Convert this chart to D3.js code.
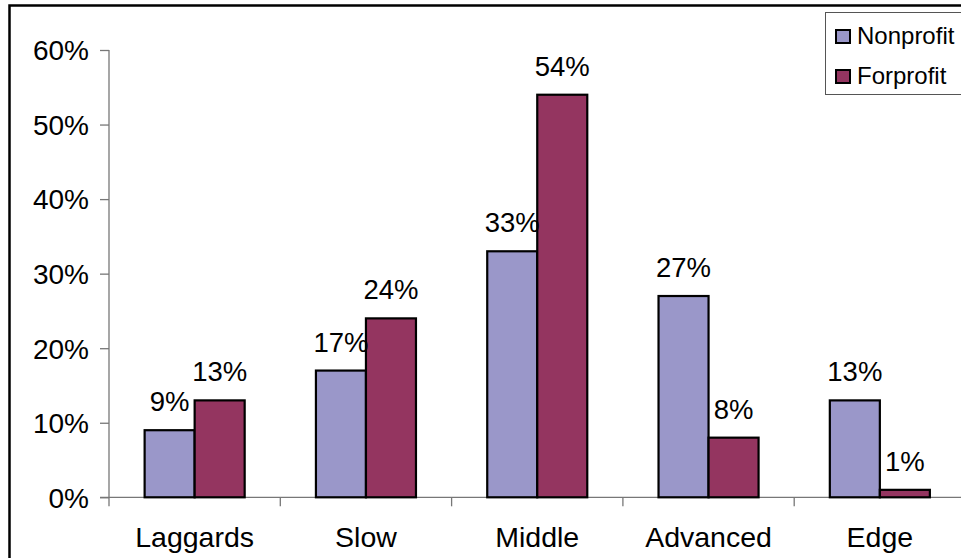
<!DOCTYPE html>
<html>
<head>
<meta charset="utf-8">
<script src="https://cdn.jsdelivr.net/npm/d3@7"></script>
<style>
  html, body { margin: 0; padding: 0; background: #fff; }
  svg { display: block; font-family: "Liberation Sans", Arial, sans-serif; }
</style>
</head>
<body>
<svg id="chart" width="961" height="558"></svg>
<script>
// Categories, series and tick labels
const categories = ["Laggards", "Slow", "Middle", "Advanced", "Edge"];
const seriesNames = ["Nonprofit", "Forprofit"];
const nonprofit = [9, 17, 33, 27, 13];
const forprofit = [13, 24, 54, 8, 1];
const yTicks = [0, 10, 20, 30, 40, 50, 60];
const seriesColors = ["#9a97c9", "#943560"];

const svg = d3.select("#chart");

// Outer frame of the chart area
svg.append("rect")
  .attr("x", 9.5).attr("y", 5.5)
  .attr("width", 1000).attr("height", 600)
  .attr("fill", "none").attr("stroke", "#000").attr("stroke-width", 2.5);

const plot = { left: 109, right: 965.5, top: 50, bottom: 497.3 };

const y = d3.scaleLinear().domain([0, 60]).range([plot.bottom, plot.top]);
const x = d3.scaleBand().domain(categories)
  .range([plot.left, plot.right])
  .paddingInner(0.416).paddingOuter(0.208);
const xs = d3.scaleBand().domain(seriesNames).range([0, x.bandwidth()]);

const rows = categories.map((c, i) => ({
  category: c,
  values: [
    { series: seriesNames[0], value: nonprofit[i] },
    { series: seriesNames[1], value: forprofit[i] }
  ]
}));

// Y axis
const yAxis = d3.axisLeft(y).tickValues(yTicks).tickSize(9).tickPadding(11)
  .tickFormat(d => d + "%");
const gy = svg.append("g").attr("transform", `translate(${plot.left},0)`).call(yAxis);
gy.select(".domain").attr("stroke", "#777").attr("stroke-width", 1.3)
  .attr("d", `M0,${plot.top}V${plot.bottom + 9}`);
gy.selectAll(".tick line").attr("stroke", "#777").attr("stroke-width", 1.3);
gy.selectAll(".tick text").attr("font-size", 28).attr("fill", "#000")
  .attr("font-family", "Liberation Sans, Arial, sans-serif").attr("dy", "0.35em");

// X axis baseline with ticks at category boundaries
const step = x.step();
const gx = svg.append("g");
gx.append("line")
  .attr("x1", plot.left - 9).attr("x2", 961)
  .attr("y1", y(0)).attr("y2", y(0))
  .attr("stroke", "#777").attr("stroke-width", 1.3);
gx.selectAll("line.tick").data(d3.range(1, categories.length + 1))
  .join("line").attr("class", "tick")
  .attr("x1", i => plot.left + i * step).attr("x2", i => plot.left + i * step)
  .attr("y1", y(0)).attr("y2", y(0) + 9)
  .attr("stroke", "#777").attr("stroke-width", 1.3);
gx.selectAll("text").data(categories).join("text")
  .attr("x", d => x(d) + x.bandwidth() / 2)
  .attr("y", 546.5)
  .attr("text-anchor", "middle")
  .attr("font-size", 28.5)
  .text(d => d);

// Bars
const groups = svg.append("g").selectAll("g").data(rows).join("g")
  .attr("transform", d => `translate(${x(d.category)},0)`);

groups.selectAll("rect").data(d => d.values).join("rect")
  .attr("x", d => xs(d.series))
  .attr("y", d => y(d.value))
  .attr("width", xs.bandwidth())
  .attr("height", d => y(0) - y(d.value))
  .attr("fill", (d, i) => seriesColors[i])
  .attr("stroke", "#000").attr("stroke-width", 2.2);

// Value labels above bars
groups.selectAll("text").data(d => d.values).join("text")
  .attr("x", d => xs(d.series) + xs.bandwidth() / 2)
  .attr("y", d => y(d.value) - 19)
  .attr("text-anchor", "middle")
  .attr("font-size", 27.5)
  .text(d => d.value + "%");

// Legend
const legend = svg.append("g");
legend.append("rect")
  .attr("x", 825.5).attr("y", 12.5).attr("width", 160).attr("height", 82)
  .attr("fill", "#fff").attr("stroke", "#555").attr("stroke-width", 1);
const items = legend.selectAll("g.item").data(seriesNames).join("g")
  .attr("class", "item")
  .attr("transform", (d, i) => `translate(0,${i * 40})`);
items.append("rect")
  .attr("x", 836).attr("y", 30).attr("width", 14).attr("height", 13)
  .attr("fill", (d, i) => seriesColors[i])
  .attr("stroke", "#000").attr("stroke-width", 2);
items.append("text")
  .attr("x", 857).attr("y", 43.5)
  .attr("font-size", 24)
  .text(d => d);
</script>
</body>
</html>
